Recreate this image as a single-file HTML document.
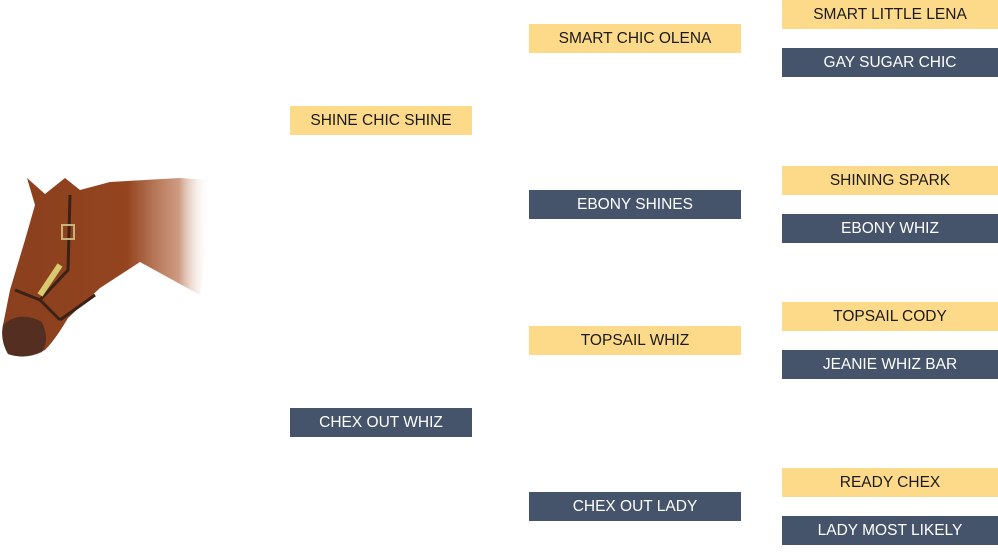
<!DOCTYPE html>
<html><head><meta charset="utf-8"><style>
body{margin:0;width:998px;height:557px;background:#fff;position:relative;overflow:hidden;font-family:"Liberation Sans",sans-serif}
.b{position:absolute;height:29px;line-height:29px;text-align:center;font-size:15.5px}
.y{background:#fdd98a;color:#1a1a1a}
.d{background:#45536b;color:#fff}
</style></head><body>
<svg style="position:absolute;left:0;top:170px" width="220" height="200" viewBox="0 0 220 200">
<defs><linearGradient id="g" x1="0" x2="1" y1="0" y2="0">
<stop offset="0" stop-color="#8a3f1e"/><stop offset="0.6" stop-color="#94441f"/><stop offset="0.85" stop-color="#b8704c" stop-opacity="0.7"/><stop offset="1" stop-color="#fff" stop-opacity="0"/></linearGradient></defs>
<path d="M27 8 L45 24 L65 8 L80 20 L110 12 L180 8 L210 10 L205 90 L200 125 L140 92 L100 118 L68 148 Q55 170 45 180 Q25 190 8 184 Q0 170 3 155 L10 120 L25 70 L35 35 Z" fill="url(#g)"/>
<path d="M8 184 Q0 170 3 155 Q20 140 42 152 Q50 170 42 182 Q25 190 8 184 Z" fill="#4a2b22" opacity="0.85"/>
<path d="M70 25 L68 100 L40 130 M15 120 L40 130 L60 150 M60 150 L95 125" stroke="#3a2216" stroke-width="3" fill="none"/>
<rect x="62" y="55" width="12" height="14" fill="none" stroke="#c9b27a" stroke-width="2"/>
<path d="M40 125 L60 95" stroke="#d8c870" stroke-width="6"/>
</svg>
<div class="b y" style="left:290px;top:106px;width:182px">SHINE CHIC SHINE</div>
<div class="b d" style="left:290px;top:408px;width:182px">CHEX OUT WHIZ</div>
<div class="b y" style="left:529px;top:24px;width:212px">SMART CHIC OLENA</div>
<div class="b d" style="left:529px;top:190px;width:212px">EBONY SHINES</div>
<div class="b y" style="left:529px;top:326px;width:212px">TOPSAIL WHIZ</div>
<div class="b d" style="left:529px;top:492px;width:212px">CHEX OUT LADY</div>
<div class="b y" style="left:782px;top:0px;width:216px">SMART LITTLE LENA</div>
<div class="b d" style="left:782px;top:48px;width:216px">GAY SUGAR CHIC</div>
<div class="b y" style="left:782px;top:166px;width:216px">SHINING SPARK</div>
<div class="b d" style="left:782px;top:214px;width:216px">EBONY WHIZ</div>
<div class="b y" style="left:782px;top:302px;width:216px">TOPSAIL CODY</div>
<div class="b d" style="left:782px;top:350px;width:216px">JEANIE WHIZ BAR</div>
<div class="b y" style="left:782px;top:468px;width:216px">READY CHEX</div>
<div class="b d" style="left:782px;top:516px;width:216px">LADY MOST LIKELY</div>
</body></html>
